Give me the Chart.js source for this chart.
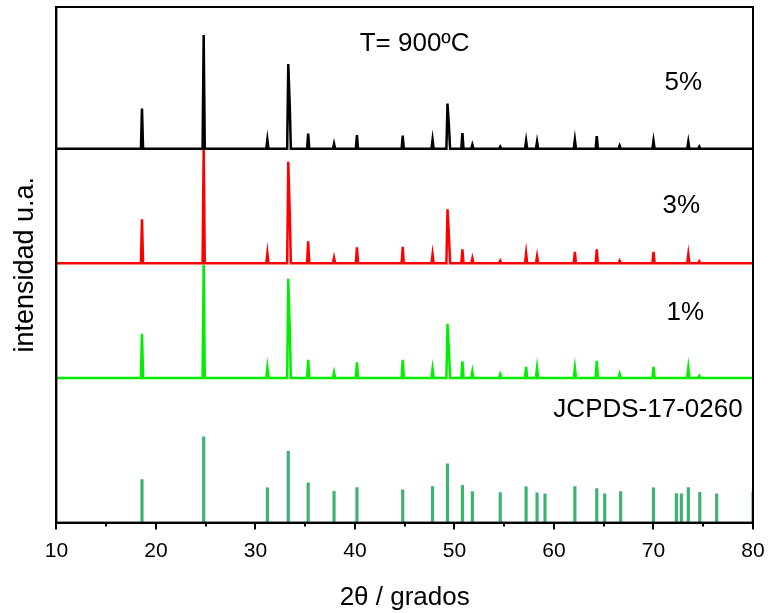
<!DOCTYPE html>
<html>
<head>
<meta charset="utf-8">
<script src="https://cdn.jsdelivr.net/npm/chart.js@4.4.1/dist/chart.umd.min.js"></script>
<style>
  html, body { margin: 0; padding: 0; background: #fff; }
  #wrap { width: 770px; height: 613px; position: relative; }
  canvas { display: block; }
</style>
</head>
<body>
<div id="wrap"><canvas id="xrd" width="770" height="613"></canvas></div>
<script>
// 2θ range and tick step (degrees)
const xMin = 10, xMax = 80, xStep = 5;
const yMin = 0, yMax = 515;

// Reflection positions seen in the three measured patterns (2θ, degrees)
const peakPos = [18.6, 24.8, 31.2, 33.3, 33.45, 35.3, 37.9, 40.2, 44.8, 47.8, 49.3, 49.45,
                 50.8, 51.8, 54.6, 57.2, 58.3, 62.1, 64.3, 66.6, 70.0, 73.5, 74.6];

// Peak heights above each pattern's baseline (a.u.)
const peaks5 = [40, 113.5, 9, 84.5, 43, 15, 5, 13.5, 13, 9, 45, 22,
                15.5, 4, 2, 8, 7, 9, 12.5, 3, 8, 7, 2];
const peaks3 = [44, 115, 10, 101.5, 50, 22, 5.5, 16, 16.5, 9, 54, 27,
                14, 5, 2.5, 10, 7, 11.5, 14, 2.5, 11.5, 9, 2];
const peaks1 = [44, 113, 10, 99, 49, 18, 5.5, 15.5, 18, 9, 54, 27,
                16.5, 6.5, 3.5, 11, 10, 10, 17, 4, 11, 10, 2];

// Vertical offsets that stack the patterns (a.u.)
const base5 = 373.5, base3 = 259, base1 = 144.5;

// Reference card lines: position (2θ) and intensity (a.u.)
const refPos = [18.6, 24.8, 31.2, 33.3, 35.3, 37.9, 40.2, 44.8, 47.8, 49.3, 50.8, 51.8,
                54.6, 57.2, 58.3, 59.1, 62.1, 64.3, 65.1, 66.7, 70.0, 72.3, 72.8, 73.5,
                74.65, 76.35, 80.0];
const refInt = [43, 85.7, 34.7, 71.3, 39.7, 31.3, 35, 32.7, 36, 58.7, 37.3, 31,
                30, 35.7, 29.7, 28.7, 36, 34, 28.7, 31, 34.7, 29, 28.7, 35,
                30.3, 28.7, 30.7];

const seriesLabels = ['5%', '3%', '1%', 'JCPDS-17-0260'];
const titleText = 'T= 900ºC';
const xTitle = '2θ / grados';
const yTitle = 'intensidad u.a.';

// Turn a list of peak heights into a spiky profile on top of a flat baseline
const halfWidth = 0.11;
function profile(heights, base) {
  const pts = [{ x: xMin, y: base }];
  for (let i = 0; i < peakPos.length; i++) {
    const p = peakPos[i];
    const prevClose = i > 0 && p - peakPos[i - 1] < 2 * halfWidth;
    const nextClose = i < peakPos.length - 1 && peakPos[i + 1] - p < 2 * halfWidth;
    if (!prevClose) pts.push({ x: p - halfWidth, y: base });
    pts.push({ x: p, y: base + heights[i] });
    if (!nextClose) pts.push({ x: p + halfWidth, y: base });
  }
  pts.push({ x: xMax, y: base });
  return pts;
}

const FONT = "'Liberation Sans', Arial, Helvetica, sans-serif";

// Text notes placed in data coordinates
const notes = [
  { text: titleText,       x: 46.0,  y: 478 },
  { text: seriesLabels[0], x: 73.0,  y: 439 },
  { text: seriesLabels[1], x: 72.8,  y: 316 },
  { text: seriesLabels[2], x: 73.2,  y: 209.5 },
  { text: seriesLabels[3], x: 69.45, y: 112.3 }
];

const notesPlugin = {
  id: 'notes',
  afterDatasetsDraw(chart) {
    const { ctx, scales: { x, y } } = chart;
    ctx.save();
    ctx.fillStyle = '#000';
    ctx.font = `26px ${FONT}`;
    ctx.textAlign = 'center';
    ctx.textBaseline = 'middle';
    notes.forEach(n => ctx.fillText(n.text, x.getPixelForValue(n.x), y.getPixelForValue(n.y)));
    ctx.restore();
  }
};

// Box around the plot area plus outward tick marks (long at labelled ticks)
const framePlugin = {
  id: 'frame',
  afterDraw(chart) {
    const { ctx, chartArea: a, scales: { x } } = chart;
    ctx.save();
    ctx.strokeStyle = '#000';
    ctx.lineWidth = 2;
    ctx.strokeRect(a.left, a.top, a.right - a.left, a.bottom - a.top);
    x.ticks.forEach(t => {
      const px = Math.round(x.getPixelForValue(t.value));
      const len = t.value % 10 === 0 ? 7 : 4;
      ctx.beginPath();
      ctx.moveTo(px, a.bottom);
      ctx.lineTo(px, a.bottom + len);
      ctx.stroke();
    });
    ctx.restore();
  }
};

const lineStyle = { borderWidth: 2.5, pointRadius: 0, tension: 0, fill: false };

new Chart(document.getElementById('xrd'), {
  type: 'line',
  data: {
    datasets: [
      { label: seriesLabels[0], data: profile(peaks5, base5), borderColor: '#000000', ...lineStyle },
      { label: seriesLabels[1], data: profile(peaks3, base3), borderColor: '#ff0000', ...lineStyle },
      { label: seriesLabels[2], data: profile(peaks1, base1), borderColor: '#00ee00', ...lineStyle },
      {
        type: 'bar',
        label: seriesLabels[3],
        data: refPos.map((p, i) => ({ x: p, y: refInt[i] })),
        backgroundColor: '#3cb371',
        borderWidth: 0,
        barThickness: 2.5,
        grouped: false
      }
    ]
  },
  options: {
    responsive: false,
    maintainAspectRatio: false,
    animation: false,
    devicePixelRatio: 1,
    layout: { padding: { top: 7, right: 17, bottom: 0, left: 0 } },
    plugins: { legend: { display: false }, tooltip: { enabled: false } },
    scales: {
      x: {
        type: 'linear',
        min: xMin, max: xMax,
        offset: false,
        grid: { display: true, drawOnChartArea: false, drawTicks: true, tickLength: 14, tickColor: 'rgba(0,0,0,0)' },
        border: { display: true, color: '#000', width: 2 },
        ticks: {
          stepSize: xStep,
          autoSkip: false,
          maxRotation: 0,
          padding: 2,
          color: '#000',
          font: { family: FONT, size: 21 },
          callback: v => (v % 10 === 0 ? String(v) : '')
        },
        title: {
          display: true, text: xTitle, color: '#000',
          font: { family: FONT, size: 26 },
          padding: { top: 16, bottom: 0 }
        }
      },
      y: {
        min: yMin, max: yMax,
        grid: { display: true, drawOnChartArea: false, drawTicks: false },
        border: { display: true, color: '#000', width: 2 },
        ticks: { display: false },
        title: {
          display: true, text: yTitle, color: '#000',
          font: { family: FONT, size: 27 },
          padding: { top: 9, bottom: 15 }
        }
      }
    }
  },
  plugins: [notesPlugin, framePlugin]
});
</script>
</body>
</html>
